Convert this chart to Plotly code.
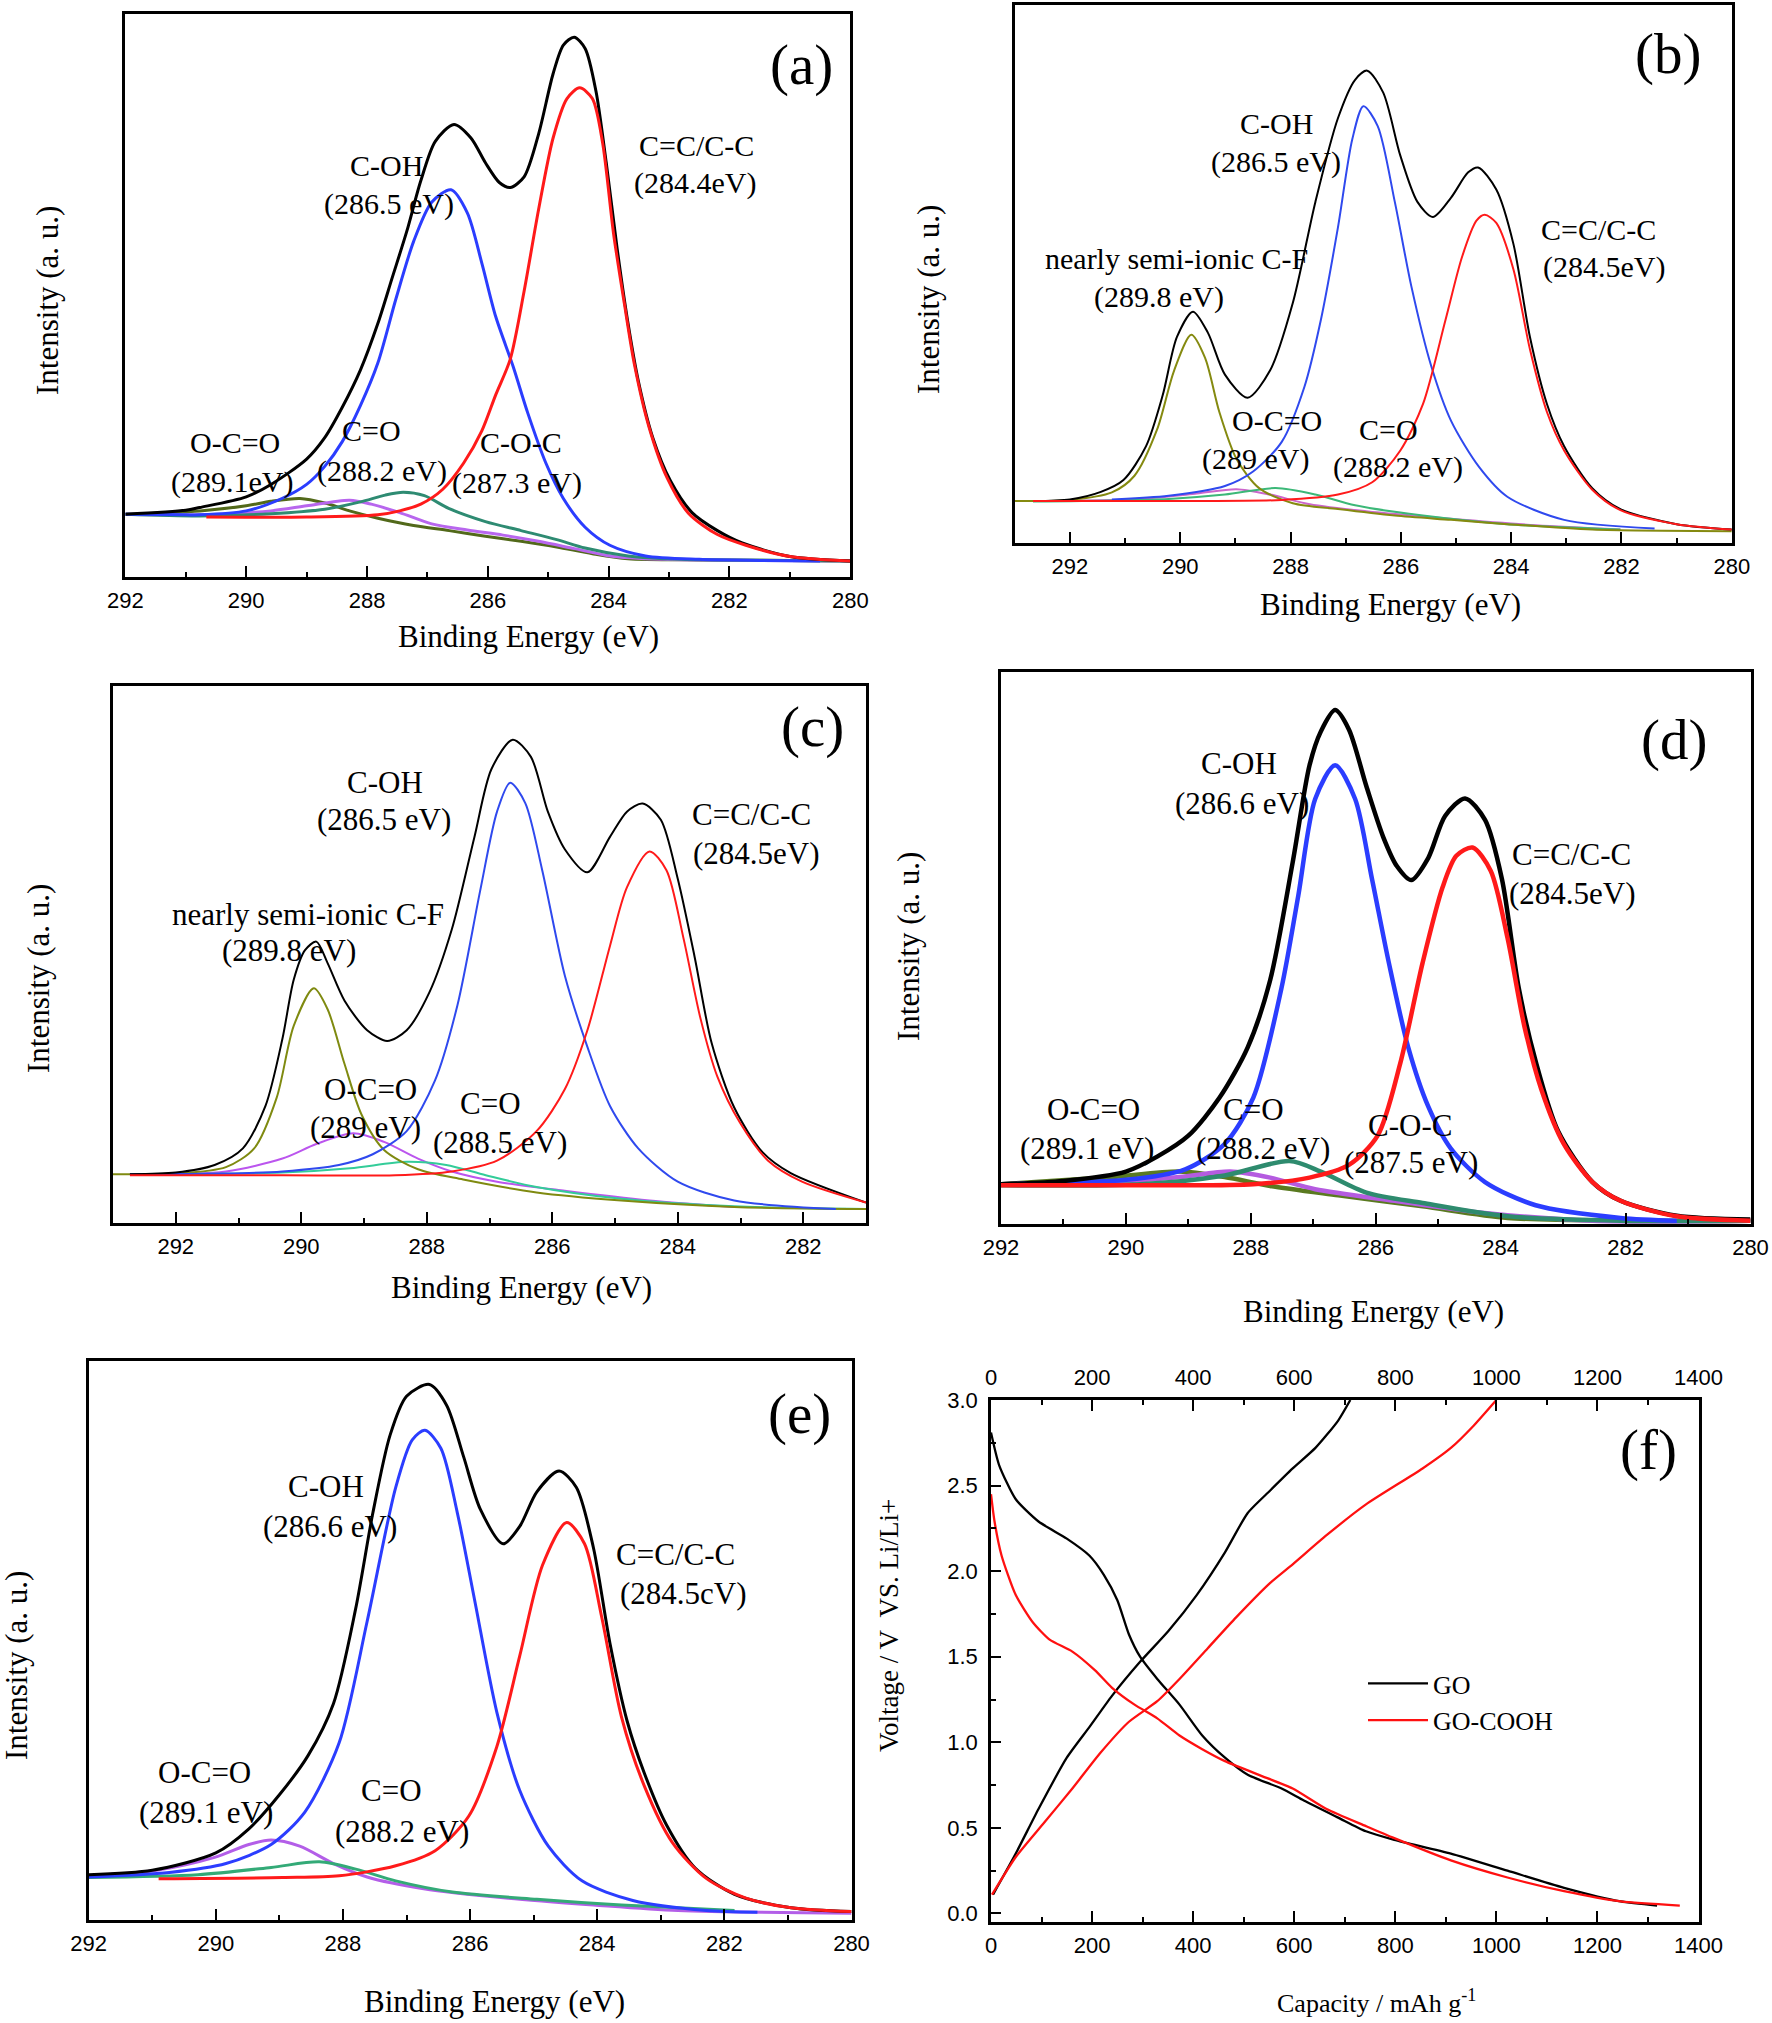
import plotly.graph_objects as go

W, H = 1772, 2023

# ---------------- panel (a) ----------------
a_env_x = [292.0, 291.0, 290.77, 290.0, 289.59, 289.0, 288.7, 288.41, 288.11, 287.82, 287.58, 287.34, 287.11, 286.87, 286.56, 286.28, 286.04, 285.81, 285.63, 285.4, 285.16, 284.92, 284.75, 284.57, 284.39, 284.21, 284.04, 283.86, 283.68, 283.51, 283.27, 282.98, 282.62, 282.2, 281.79, 281.0, 280.0]
a_env_y = [11.1, 11.8, 12.3, 14.2, 16.4, 20.9, 24.7, 30.1, 36.7, 45.0, 53.2, 61.4, 70.3, 77.3, 80.3, 77.9, 73.5, 70.0, 69.1, 71.0, 78.6, 89.3, 94.4, 95.8, 93.8, 86.2, 73.5, 58.3, 45.0, 34.8, 24.7, 17.1, 11.4, 8.2, 6.0, 3.6, 2.8]
a_cc_x = [290.66, 289.0, 287.82, 287.46, 287.11, 286.75, 286.4, 286.1, 285.87, 285.63, 285.4, 285.16, 284.92, 284.69, 284.48, 284.27, 284.1, 283.92, 283.74, 283.57, 283.33, 283.03, 282.68, 282.2, 281.73, 281.0, 280.0]
a_cc_y = [10.6, 10.6, 11.0, 11.7, 12.9, 15.5, 20.2, 25.9, 32.3, 38.6, 50.7, 65.2, 77.9, 84.9, 86.8, 84.9, 77.0, 61.0, 48.5, 37.5, 26.5, 17.5, 11.3, 7.5, 5.6, 3.6, 2.8]
a_coh_x = [292.0, 291.0, 290.77, 290.0, 289.41, 289.0, 288.7, 288.41, 288.11, 287.82, 287.52, 287.23, 286.93, 286.61, 286.34, 286.1, 285.87, 285.58, 285.34, 285.04, 284.75, 284.39, 283.98, 283.39, 282.5, 281.5, 280.5]
a_coh_y = [11.1, 11.0, 11.0, 11.7, 13.9, 16.4, 19.6, 24.0, 30.4, 38.0, 49.4, 59.5, 66.5, 68.7, 64.6, 55.7, 46.2, 37.3, 29.1, 20.2, 13.9, 8.8, 5.6, 3.7, 3.1, 2.9, 2.8]
a_oco_x = [292.0, 290.77, 290.0, 289.59, 289.11, 288.7, 288.29, 287.82, 287.23, 286.64, 286.04, 285.45, 284.86, 284.27, 283.68, 282.5, 281.0, 280.0]
a_oco_y = [11.1, 11.7, 12.6, 13.4, 13.9, 13.1, 11.7, 10.4, 9.1, 8.2, 7.2, 6.3, 5.3, 4.1, 3.2, 3.0, 2.9, 2.8]
a_co_x = [292.0, 290.77, 289.59, 289.0, 288.29, 287.93, 287.46, 286.93, 286.34, 285.75, 285.16, 284.57, 283.98, 283.1, 281.5, 280.0]
a_co_y = [11.1, 11.0, 11.7, 12.6, 13.6, 12.9, 11.4, 9.4, 8.3, 7.4, 6.3, 5.0, 3.7, 3.1, 2.9, 2.8]
a_coc_x = [292.0, 290.77, 289.59, 288.7, 288.11, 287.7, 287.4, 287.05, 286.64, 286.04, 285.45, 284.86, 284.39, 283.68, 282.8, 281.0, 280.0]
a_coc_y = [11.1, 10.8, 11.2, 12.0, 13.3, 14.5, 15.0, 14.4, 12.1, 9.8, 8.2, 6.6, 5.1, 3.7, 3.1, 2.9, 2.8]

# ---------------- panel (b) ----------------
b_env_x = [292.67, 292.0, 291.44, 291.03, 290.62, 290.32, 290.06, 289.77, 289.5, 289.19, 288.78, 288.37, 287.96, 287.55, 287.14, 286.83, 286.61, 286.32, 286.01, 285.7, 285.42, 285.09, 284.78, 284.6, 284.27, 283.96, 283.66, 283.35, 283.04, 282.53, 282.02, 281.0, 280.0]
b_env_y = [7.8, 8.1, 9.5, 11.7, 18.0, 27.4, 38.3, 43.0, 39.1, 31.3, 27.0, 32.1, 44.6, 63.4, 79.0, 86.1, 87.8, 83.7, 72.0, 63.4, 60.6, 64.2, 68.9, 69.8, 65.7, 55.6, 38.3, 25.8, 18.0, 10.2, 6.3, 3.5, 2.5]
b_coh_x = [291.24, 290.21, 289.19, 288.68, 288.16, 287.75, 287.45, 287.14, 286.88, 286.68, 286.42, 286.11, 285.81, 285.45, 285.09, 284.58, 284.07, 283.04, 281.4]
b_coh_y = [8.1, 8.8, 10.6, 13.3, 18.8, 29.0, 41.5, 58.7, 75.1, 81.2, 77.5, 63.4, 47.7, 32.9, 22.7, 14.1, 8.6, 4.3, 2.7]
b_cc_x = [292.67, 290.0, 288.16, 287.14, 286.52, 286.01, 285.6, 285.19, 284.89, 284.63, 284.48, 284.27, 283.96, 283.66, 283.35, 283.04, 282.53, 282.02, 281.0, 280.0]
b_cc_y = [7.8, 7.8, 8.0, 9.0, 11.3, 17.2, 25.8, 41.5, 53.2, 59.9, 61.0, 59.5, 50.9, 36.0, 24.3, 17.2, 9.9, 6.1, 3.5, 2.5]
b_cf_x = [293.0, 292.0, 291.24, 290.83, 290.42, 290.11, 289.8, 289.55, 289.29, 288.98, 288.57, 287.96, 287.14, 286.11, 285.09, 284.07, 282.53, 280.0]
b_cf_y = [7.8, 8.0, 9.4, 12.5, 21.1, 32.1, 38.7, 34.4, 24.3, 15.6, 10.2, 7.4, 6.3, 5.1, 4.3, 3.5, 2.5, 2.2]
b_oco_x = [292.67, 290.73, 289.7, 288.98, 288.37, 287.65, 286.63, 285.09, 283.55, 282.02]
b_oco_y = [7.8, 8.2, 9.2, 10.0, 9.0, 7.2, 5.9, 4.5, 3.3, 2.5]
b_co_x = [292.67, 290.21, 289.19, 288.27, 287.55, 286.83, 285.6, 284.07, 282.02]
b_co_y = [7.7, 8.2, 9.0, 10.2, 9.0, 7.0, 5.1, 3.5, 2.5]

# ---------------- panel (c) ----------------
c_env_x = [292.73, 292.0, 291.38, 290.93, 290.57, 290.3, 290.12, 289.94, 289.76, 289.58, 289.31, 288.95, 288.63, 288.32, 287.96, 287.6, 287.24, 286.97, 286.63, 286.34, 286.07, 285.8, 285.44, 285.08, 284.81, 284.56, 284.27, 284.0, 283.73, 283.46, 283.1, 282.65, 282.2, 281.0]
c_env_y = [9.1, 9.4, 10.8, 13.9, 21.8, 34.3, 45.3, 50.8, 52.4, 48.4, 41.4, 35.9, 33.9, 35.9, 42.9, 54.7, 71.9, 84.5, 90.0, 86.8, 76.6, 69.6, 65.3, 71.9, 76.6, 78.1, 75.1, 64.1, 49.5, 33.5, 21.5, 13.2, 9.3, 3.8]
c_coh_x = [292.73, 291.2, 290.3, 289.4, 288.86, 288.32, 287.87, 287.51, 287.15, 286.88, 286.67, 286.43, 286.16, 285.8, 285.44, 285.08, 284.63, 284.0, 283.1, 281.48]
c_coh_y = [9.1, 9.2, 9.6, 10.8, 12.8, 17.1, 26.5, 40.6, 61.8, 76.6, 82.0, 78.2, 65.7, 46.1, 32.8, 21.8, 13.9, 7.7, 4.2, 2.6]
c_cc_x = [292.73, 290.3, 288.5, 287.6, 286.88, 286.25, 285.8, 285.44, 285.08, 284.81, 284.45, 284.18, 283.91, 283.64, 283.37, 283.01, 282.56, 282.02, 281.0]
c_cc_y = [8.9, 8.9, 8.9, 9.6, 11.6, 17.1, 24.9, 35.9, 51.6, 62.5, 69.2, 65.7, 53.1, 38.2, 27.3, 18.7, 11.6, 7.7, 3.8]
c_cf_x = [293.0, 292.0, 291.2, 290.75, 290.39, 290.12, 289.8, 289.58, 289.31, 289.04, 288.68, 288.14, 287.42, 286.25, 284.9, 283.1, 281.0]
c_cf_y = [9.1, 9.2, 10.4, 13.9, 23.4, 36.7, 43.7, 39.8, 29.6, 20.2, 13.6, 10.0, 8.1, 5.7, 4.2, 3.0, 2.6]
c_oco_x = [292.73, 291.2, 290.3, 289.76, 289.17, 288.68, 288.14, 287.6, 286.88, 285.8, 284.45, 283.1]
c_oco_y = [9.1, 9.6, 12.0, 14.7, 16.7, 15.1, 12.0, 9.6, 7.7, 6.0, 4.2, 3.0]
c_co_x = [292.73, 290.3, 289.22, 288.32, 287.69, 287.06, 286.25, 284.9, 283.1, 281.0]
c_co_y = [9.1, 9.4, 10.2, 11.4, 10.8, 8.9, 6.7, 4.5, 3.1, 2.6]

# ---------------- panel (d) ----------------
d_env_x = [292.0, 291.0, 290.0, 289.5, 289.0, 288.5, 288.05, 287.69, 287.33, 287.06, 286.88, 286.65, 286.43, 286.15, 285.88, 285.66, 285.43, 285.16, 284.89, 284.57, 284.25, 283.98, 283.71, 283.44, 283.08, 282.53, 282.08, 281.18, 280.0]
d_env_y = [7.2, 7.8, 9.5, 12.2, 16.0, 22.9, 32.0, 44.2, 65.5, 83.1, 89.2, 93.1, 89.6, 79.3, 70.1, 64.8, 62.3, 66.3, 73.9, 77.1, 73.2, 62.5, 42.7, 29.5, 16.8, 7.6, 4.2, 1.5, 0.8]
d_coh_x = [292.0, 290.0, 289.05, 288.42, 287.96, 287.51, 287.24, 286.97, 286.65, 286.33, 286.06, 285.79, 285.48, 285.16, 284.8, 284.25, 283.44, 282.08, 281.18]
d_coh_y = [7.2, 8.0, 9.9, 14.5, 22.9, 42.7, 59.5, 77.0, 83.1, 77.0, 62.5, 47.3, 32.0, 21.3, 13.7, 7.6, 3.4, 1.1, 0.6]
d_cc_x = [292.0, 289.32, 287.96, 287.06, 286.43, 285.97, 285.61, 285.25, 284.93, 284.71, 284.45, 284.16, 283.89, 283.62, 283.35, 282.99, 282.53, 282.08, 281.18, 280.0]
d_cc_y = [7.0, 7.0, 7.2, 8.4, 10.7, 16.0, 29.0, 47.3, 61.0, 66.7, 68.2, 64.0, 51.8, 35.8, 24.4, 14.5, 7.6, 4.2, 1.4, 0.6]
d_oco_x = [292.0, 290.23, 289.14, 288.42, 287.69, 286.6, 285.25, 283.89, 282.08, 280.0]
d_oco_y = [7.2, 8.5, 9.5, 8.5, 6.9, 5.2, 3.2, 1.1, 0.6, 0.6]
d_co_x = [292.0, 290.23, 289.14, 288.33, 287.69, 286.97, 285.7, 284.34, 282.53, 280.0]
d_co_y = [7.2, 7.6, 8.5, 9.5, 8.4, 6.3, 4.2, 2.1, 0.6, 0.6]
d_coc_x = [292.0, 289.77, 288.42, 287.38, 286.88, 286.15, 285.25, 283.89, 282.08, 280.0]
d_coc_y = [7.0, 7.2, 8.8, 11.4, 9.5, 5.7, 3.8, 1.4, 0.6, 0.6]

# ---------------- panel (e) ----------------
e_env_x = [292.0, 291.0, 290.0, 289.48, 289.0, 288.55, 288.15, 287.8, 287.53, 287.26, 287.0, 286.64, 286.37, 286.1, 285.84, 285.48, 285.22, 284.95, 284.6, 284.33, 284.06, 283.8, 283.53, 283.26, 282.91, 282.46, 281.84, 280.95, 280.0]
e_env_y = [8.1, 8.9, 12.0, 16.3, 22.4, 29.4, 38.7, 55.7, 72.8, 86.7, 93.7, 95.8, 92.1, 82.8, 73.5, 67.3, 70.4, 76.6, 80.3, 77.4, 66.6, 49.5, 35.6, 26.3, 17.0, 9.3, 4.6, 2.2, 1.5]
e_coh_x = [292.0, 290.73, 289.84, 289.13, 288.6, 288.06, 287.62, 287.17, 286.91, 286.71, 286.46, 286.2, 285.93, 285.58, 285.22, 284.77, 284.24, 283.44, 282.28, 281.48]
e_coh_y = [7.7, 8.5, 10.1, 13.5, 19.3, 31.7, 53.4, 77.4, 85.9, 87.6, 84.4, 72.8, 57.3, 37.2, 23.2, 13.2, 7.0, 3.5, 1.7, 1.4]
e_cc_x = [290.9, 288.95, 288.06, 287.17, 286.55, 286.02, 285.58, 285.22, 284.86, 284.48, 284.2, 283.93, 283.62, 283.26, 282.82, 282.28, 281.66, 280.95, 280.0]
e_cc_y = [7.4, 7.6, 7.9, 9.7, 12.4, 18.6, 31.0, 47.2, 63.5, 71.1, 67.3, 54.2, 36.4, 24.0, 13.9, 7.4, 3.9, 2.2, 1.5]
e_oco_x = [292.0, 290.93, 290.02, 289.48, 289.13, 288.68, 288.15, 287.62, 286.73, 285.4, 284.06, 282.73, 280.0]
e_oco_y = [7.9, 8.9, 11.2, 13.5, 14.3, 13.2, 10.1, 7.7, 5.6, 3.9, 2.7, 1.7, 1.2]
e_co_x = [292.0, 290.28, 289.13, 288.37, 287.8, 287.17, 286.28, 284.95, 283.62, 281.84]
e_co_y = [7.6, 8.1, 9.4, 10.4, 9.1, 7.0, 5.0, 3.7, 2.7, 1.7]

# ---------------- panel (f) ----------------
go_dis_cap = [0, 16, 49, 94, 150, 195, 223, 250, 273, 295, 329, 373, 418, 463, 508, 575, 619, 687, 742, 798, 910, 1022, 1134, 1246, 1318]
go_dis_v = [2.81, 2.62, 2.42, 2.29, 2.19, 2.09, 1.98, 1.83, 1.63, 1.50, 1.37, 1.22, 1.04, 0.91, 0.81, 0.73, 0.66, 0.56, 0.48, 0.43, 0.35, 0.25, 0.15, 0.07, 0.046]
go_chg_cap = [4, 49, 94, 150, 195, 239, 295, 351, 407, 463, 508, 552, 597, 642, 687, 711]
go_chg_v = [0.11, 0.35, 0.61, 0.91, 1.09, 1.27, 1.47, 1.65, 1.86, 2.11, 2.34, 2.47, 2.60, 2.72, 2.88, 3.0]
gocooh_dis_cap = [0, 7, 21, 49, 83, 116, 161, 206, 239, 284, 329, 373, 418, 463, 530, 597, 664, 742, 798, 910, 1022, 1134, 1246, 1363]
gocooh_dis_v = [2.45, 2.29, 2.09, 1.86, 1.70, 1.60, 1.53, 1.42, 1.32, 1.22, 1.14, 1.04, 0.96, 0.89, 0.81, 0.73, 0.61, 0.51, 0.44, 0.31, 0.21, 0.13, 0.07, 0.046]
gocooh_chg_cap = [2, 49, 105, 161, 217, 273, 329, 373, 429, 485, 552, 597, 664, 742, 854, 910, 955, 1000]
gocooh_chg_v = [0.11, 0.33, 0.53, 0.73, 0.94, 1.12, 1.24, 1.37, 1.55, 1.73, 1.93, 2.04, 2.21, 2.39, 2.60, 2.72, 2.85, 3.0]

# ---------------- styling ----------------
SERIF = "Liberation Serif, Times New Roman, serif"
SANS = "Liberation Sans, Arial, sans-serif"
BLACK = "#000000"
BLUE = "#2b3dff"
RED = "#ff1a1a"

fig = go.Figure()


def px_x(v):
    return v / W


def px_y(v):
    return 1 - v / H


def add_curve(x, y, color, width, ax):
    fig.add_trace(go.Scatter(
        x=x, y=y, mode="lines",
        line=dict(color=color, width=width, shape="spline", smoothing=0.8),
        xaxis="x" + ("" if ax == 1 else str(ax)),
        yaxis="y" + ("" if ax == 1 else str(ax)),
        showlegend=False, hoverinfo="skip"))


panels = [
    dict(ax=1, dx=(125.4, 850.3), dy=(13.5, 576.8), xr=[292, 280], lw=3.0, fs=30,
         curves=[(a_oco_x, a_oco_y, "#52691a"), (a_co_x, a_co_y, "#b866ee"), (a_coc_x, a_coc_y, "#2e8b72"),
                 (a_coh_x, a_coh_y, BLUE), (a_env_x, a_env_y, BLACK), (a_cc_x, a_cc_y, RED)],
         labels=[("C-OH", 287.67, 73.1), ("(286.5 eV)", 287.64, 66.1),
                 ("C=C/C-C", 282.55, 76.6), ("(284.4eV)", 282.57, 69.9),
                 ("O-C=O", 290.19, 23.9), ("(289.1eV)", 290.24, 16.8),
                 ("C=O", 287.92, 26.0), ("(288.2 eV)", 287.76, 18.8),
                 ("C-O-C", 285.45, 23.8), ("(287.3 eV)", 285.52, 16.6)],
         tag=("(a)", 280.81, 90.8), xt=(528, 636), yt=(47, 301)),
    dict(ax=2, dx=(1014.8, 1731.8), dy=(5.0, 543.0), xr=[293, 280], lw=2.0, fs=30,
         curves=[(b_oco_x, b_oco_y, "#cc66cc"), (b_co_x, b_co_y, "#3cb878"), (b_cf_x, b_cf_y, "#858a10"),
                 (b_coh_x, b_coh_y, "#2f49ee"), (b_env_x, b_env_y, BLACK), (b_cc_x, b_cc_y, RED)],
         labels=[("C-OH", 288.25, 77.9), ("(286.5 eV)", 288.27, 70.8),
                 ("nearly semi-ionic C-F", 290.06, 52.8), ("(289.8 eV)", 290.39, 45.8),
                 ("C=C/C-C", 282.41, 58.3), ("(284.5eV)", 282.32, 51.3),
                 ("O-C=O", 288.25, 22.7), ("(289 eV)", 288.63, 15.6),
                 ("C=O", 286.22, 21.1), ("(288.2 eV)", 286.06, 14.1)],
         tag=("(b)", 281.15, 90.8), xt=(1390, 604), yt=(929, 300)),
    dict(ax=3, dx=(113.0, 866.0), dy=(686.0, 1223.0), xr=[293, 281], lw=2.0, fs=31,
         curves=[(c_oco_x, c_oco_y, "#bb55ee"), (c_co_x, c_co_y, "#33cc99"), (c_cf_x, c_cf_y, "#7f8a10"),
                 (c_coh_x, c_coh_y, "#2f49ee"), (c_env_x, c_env_y, BLACK), (c_cc_x, c_cc_y, RED)],
         labels=[("C-OH", 288.66, 82.1), ("(286.5 eV)", 288.68, 75.1),
                 ("C=C/C-C", 282.83, 76.0), ("(284.5eV)", 282.74, 68.8),
                 ("nearly semi-ionic C-F", 289.89, 57.4), ("(289.8 eV)", 290.19, 50.8),
                 ("O-C=O", 288.9, 24.8), ("(289 eV)", 288.97, 17.7),
                 ("C=O", 286.99, 22.2), ("(288.5 eV)", 286.83, 14.9)],
         tag=("(c)", 281.86, 92.3), xt=(521, 1287), yt=(38, 979)),
    dict(ax=4, dx=(1001.0, 1750.5), dy=(672.0, 1224.0), xr=[292, 280], lw=4.5, fs=31,
         curves=[(d_oco_x, d_oco_y, "#5a7a20"), (d_co_x, d_co_y, "#b55be0"), (d_coc_x, d_coc_y, "#2e8b6e"),
                 (d_coh_x, d_coh_y, BLUE), (d_env_x, d_env_y, BLACK), (d_cc_x, d_cc_y, RED)],
         labels=[("C-OH", 288.19, 83.5), ("(286.6 eV)", 288.14, 76.2),
                 ("C=C/C-C", 282.87, 66.9), ("(284.5eV)", 282.85, 59.8),
                 ("O-C=O", 290.52, 20.7), ("(289.1 eV)", 290.63, 13.6),
                 ("C=O", 287.96, 20.7), ("(288.2 eV)", 287.8, 13.6),
                 ("C-O-C", 285.45, 17.9), ("(287.5 eV)", 285.43, 11.1)],
         tag=("(d)", 281.22, 87.7), xt=(1373, 1311), yt=(908, 947)),
    dict(ax=5, dx=(88.7, 851.5), dy=(1361.0, 1920.0), xr=[292, 280], lw=3.0, fs=31,
         curves=[(e_oco_x, e_oco_y, "#b35ee8"), (e_co_x, e_co_y, "#33aa77"),
                 (e_coh_x, e_coh_y, BLUE), (e_env_x, e_env_y, BLACK), (e_cc_x, e_cc_y, RED)],
         labels=[("C-OH", 288.26, 77.6), ("(286.6 eV)", 288.21, 70.4),
                 ("C=C/C-C", 282.77, 65.4), ("(284.5cV)", 282.64, 58.4),
                 ("O-C=O", 290.18, 26.3), ("(289.1 eV)", 290.15, 19.3),
                 ("C=O", 287.24, 23.2), ("(288.2 eV)", 287.07, 15.9)],
         tag=("(e)", 280.82, 90.6), xt=(494, 2001), yt=(16, 1666)),
]

layout = dict(
    template="none",
    width=W, height=H, margin=dict(l=0, r=0, t=0, b=0, pad=0, autoexpand=False),
    paper_bgcolor="white", plot_bgcolor="white", showlegend=True,
    font=dict(family=SERIF, color="black"),
)
annotations = []

for p in panels:
    ax = p["ax"]
    sfx = "" if ax == 1 else str(ax)
    for cx, cy, col in p["curves"]:
        add_curve(cx, cy, col, p["lw"], ax)
    layout["xaxis" + sfx] = dict(
        domain=[px_x(p["dx"][0]), px_x(p["dx"][1])], range=p["xr"], autorange=False,
        anchor="y" + sfx, showline=True, linecolor="black", linewidth=2.5, mirror=True,
        ticks="inside", ticklen=11, tickwidth=2, tickcolor="black", tick0=280, dtick=2,
        minor=dict(ticks="inside", ticklen=5, tickwidth=2, tickcolor="black", dtick=1, tick0=280),
        tickfont=dict(family=SANS, size=22, color="black"), ticklabelstandoff=2,
        showgrid=False, zeroline=False, fixedrange=True, automargin=False)
    layout["yaxis" + sfx] = dict(
        domain=[px_y(p["dy"][1]), px_y(p["dy"][0])], range=[0, 100], autorange=False,
        anchor="x" + sfx, showline=True, linecolor="black", linewidth=2.5, mirror=True,
        ticks="", showticklabels=False, showgrid=False, zeroline=False, fixedrange=True,
        automargin=False)
    for txt, lx, ly in p["labels"]:
        annotations.append(dict(text=txt, x=lx, y=ly, xref="x" + sfx, yref="y" + sfx,
                                showarrow=False, xanchor="center", yanchor="middle",
                                font=dict(family=SERIF, size=p["fs"], color="black")))
    tt, tx, ty = p["tag"]
    annotations.append(dict(text=tt, x=tx, y=ty, xref="x" + sfx, yref="y" + sfx,
                            showarrow=False, xanchor="center", yanchor="middle",
                            font=dict(family=SERIF, size=57, color="black")))
    annotations.append(dict(text="Binding Energy (eV)", x=px_x(p["xt"][0]), y=px_y(p["xt"][1]),
                            xref="paper", yref="paper", showarrow=False,
                            xanchor="center", yanchor="middle",
                            font=dict(family=SERIF, size=31, color="black")))
    annotations.append(dict(text="Intensity (a. u.)", x=px_x(p["yt"][0]), y=px_y(p["yt"][1]),
                            xref="paper", yref="paper", showarrow=False, textangle=-90,
                            xanchor="center", yanchor="middle",
                            font=dict(family=SERIF, size=31, color="black")))

# ---------------- panel (f) ----------------
fcurves = [
    (go_dis_cap, go_dis_v, "black", "GO", True),
    (go_chg_cap, go_chg_v, "black", "GO", False),
    (gocooh_dis_cap, gocooh_dis_v, "#ff1010", "GO-COOH", True),
    (gocooh_chg_cap, gocooh_chg_v, "#ff1010", "GO-COOH", False),
]
for cx, cy, col, name, leg in fcurves:
    fig.add_trace(go.Scatter(x=cx, y=cy, mode="lines", name=name, legendgroup=name,
                             showlegend=leg,
                             line=dict(color=col, width=2.3, shape="spline", smoothing=0.6),
                             xaxis="x6", yaxis="y6", hoverinfo="skip"))
fig.add_trace(go.Scatter(x=[], y=[], mode="lines", xaxis="x7", yaxis="y6",
                         showlegend=False, hoverinfo="skip"))

fdx = (991.0, 1698.5)
fdy = (1400.0, 1922.0)
layout["xaxis6"] = dict(
    domain=[px_x(fdx[0]), px_x(fdx[1])], range=[0, 1400], autorange=False, anchor="y6",
    showline=True, linecolor="black", linewidth=2.5, mirror="ticks",
    ticks="inside", ticklen=11, tickwidth=2, tickcolor="black", tick0=0, dtick=200,
    minor=dict(ticks="inside", ticklen=5, tickwidth=2, tickcolor="black", dtick=100),
    tickfont=dict(family=SANS, size=22, color="black"), ticklabelstandoff=2,
    showgrid=False, zeroline=False, fixedrange=True, automargin=False)
layout["xaxis7"] = dict(
    domain=[px_x(fdx[0]), px_x(fdx[1])], range=[0, 1400], autorange=False, anchor="y6",
    overlaying="x6", side="top", showline=False, ticks="", tick0=0, dtick=200,
    tickfont=dict(family=SANS, size=22, color="black"), ticklabelstandoff=10,
    showgrid=False, zeroline=False, fixedrange=True, automargin=False)
layout["yaxis6"] = dict(
    domain=[px_y(fdy[1]), px_y(fdy[0])], range=[-0.05, 3.0], autorange=False, anchor="x6",
    showline=True, linecolor="black", linewidth=2.5, mirror=True,
    ticks="inside", ticklen=10, tickwidth=2, tickcolor="black", tick0=0, dtick=0.5,
    tickformat=".1f",
    minor=dict(ticks="inside", ticklen=5, tickwidth=2, tickcolor="black", dtick=0.25),
    tickfont=dict(family=SANS, size=22, color="black"), ticklabelstandoff=6,
    showgrid=False, zeroline=False, fixedrange=True, automargin=False)

annotations.append(dict(text="(f)", x=1302, y=2.71, xref="x6", yref="y6", showarrow=False,
                        xanchor="center", yanchor="middle",
                        font=dict(family=SERIF, size=57, color="black")))
annotations.append(dict(text="Capacity / mAh g<sup>-1</sup>", x=px_x(1376), y=px_y(2001),
                        xref="paper", yref="paper", showarrow=False,
                        xanchor="center", yanchor="middle",
                        font=dict(family=SERIF, size=26, color="black")))
annotations.append(dict(text="Voltage / V  VS. Li/Li+", x=px_x(889), y=px_y(1626),
                        xref="paper", yref="paper", showarrow=False, textangle=-90,
                        xanchor="center", yanchor="middle",
                        font=dict(family=SERIF, size=27, color="black")))

layout["annotations"] = annotations
layout["legend"] = dict(x=px_x(1363), y=px_y(1660), xanchor="left", yanchor="top",
                        bgcolor="rgba(0,0,0,0)", borderwidth=0, tracegroupgap=0,
                        itemwidth=60,
                        font=dict(family=SERIF, size=26, color="black"))

fig.update_layout(**layout)
fig.write_html("out.html", config={"displayModeBar": False},
               post_script="document.body.style.margin='0';document.body.style.padding='0';"
                           "document.body.style.overflow='hidden';")
